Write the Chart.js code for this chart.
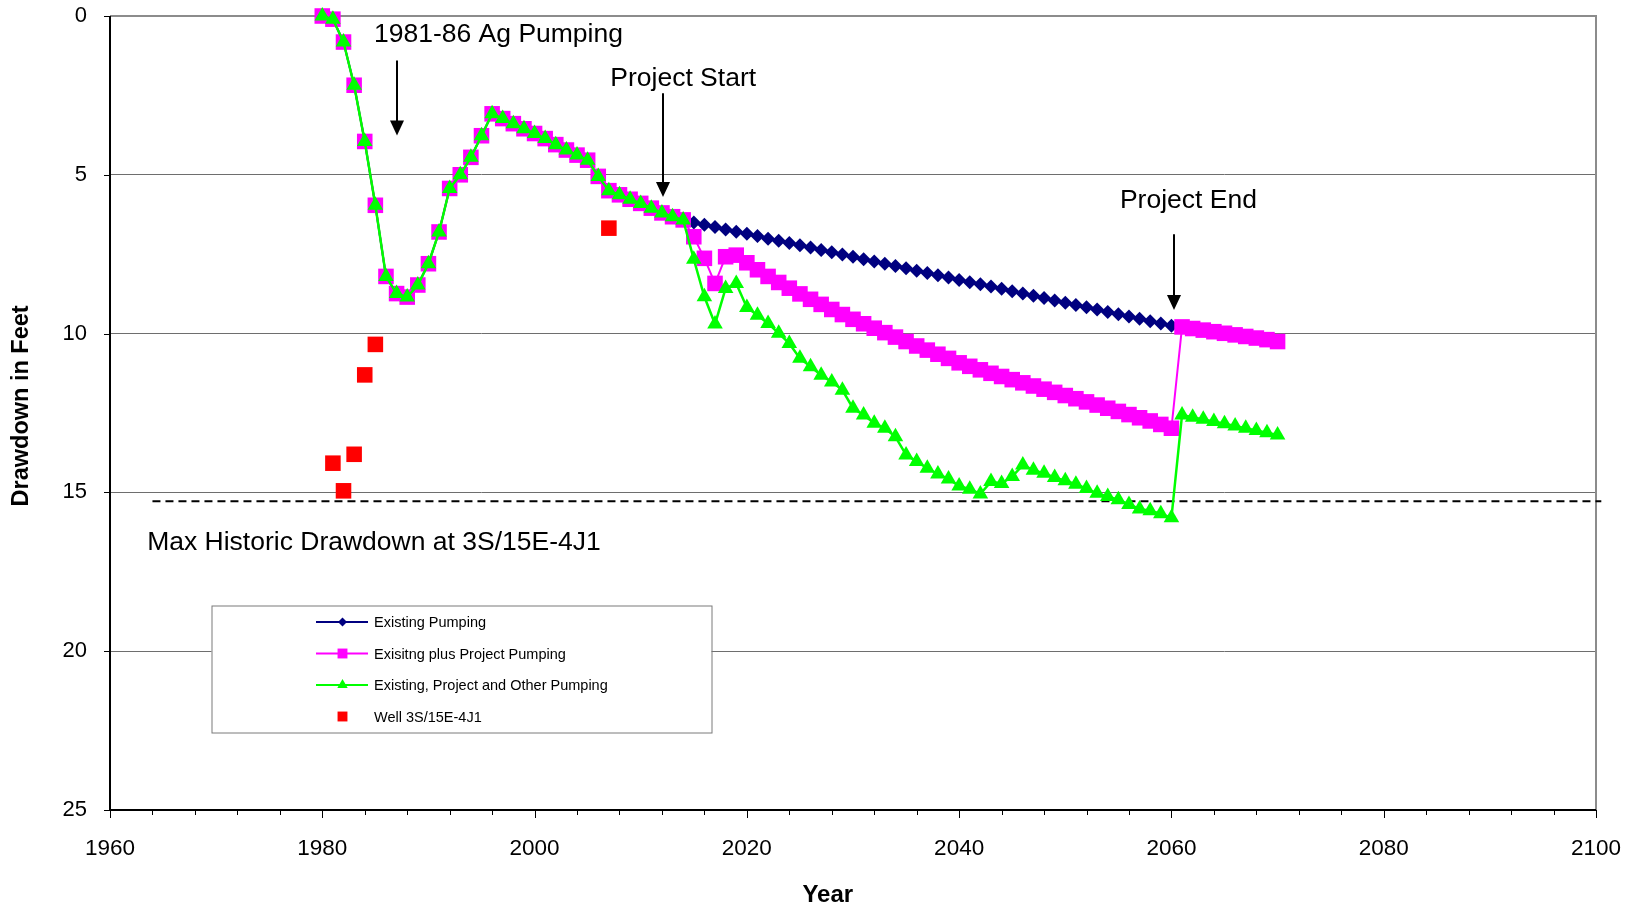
<!DOCTYPE html>
<html>
<head>
<meta charset="utf-8">
<title>Drawdown in Feet</title>
<script src="https://cdn.jsdelivr.net/npm/chart.js"></script>
<style>
  html, body { margin: 0; padding: 0; background: #ffffff; }
  canvas { display: block; }
</style>
</head>
<body>
<canvas id="chart" width="1631" height="911"></canvas>
<script>
// ---- Data -------------------------------------------------------------
const years = [
  1980, 1981, 1982, 1983, 1984, 1985, 1986, 1987, 1988, 1989,
  1990, 1991, 1992, 1993, 1994, 1995, 1996, 1997, 1998, 1999,
  2000, 2001, 2002, 2003, 2004, 2005, 2006, 2007, 2008, 2009,
  2010, 2011, 2012, 2013, 2014, 2015, 2016, 2017, 2018, 2019,
  2020, 2021, 2022, 2023, 2024, 2025, 2026, 2027, 2028, 2029,
  2030, 2031, 2032, 2033, 2034, 2035, 2036, 2037, 2038, 2039,
  2040, 2041, 2042, 2043, 2044, 2045, 2046, 2047, 2048, 2049,
  2050, 2051, 2052, 2053, 2054, 2055, 2056, 2057, 2058, 2059,
  2060, 2061, 2062, 2063, 2064, 2065, 2066, 2067, 2068, 2069,
  2070
];

// Existing Pumping (ends at 2060)
const existingPumping = [
  0.00, 0.10, 0.82, 2.18, 3.95, 5.96, 8.20, 8.74, 8.85, 8.47,
  7.80, 6.80, 5.43, 5.00, 4.45, 3.77, 3.08, 3.23, 3.39, 3.55,
  3.70, 3.86, 4.05, 4.22, 4.38, 4.54, 5.05, 5.50, 5.63, 5.77,
  5.90, 6.05, 6.20, 6.32, 6.42, 6.50, 6.57, 6.64, 6.72, 6.79,
  6.86, 6.93, 7.01, 7.08, 7.15, 7.22, 7.29, 7.37, 7.44, 7.51,
  7.58, 7.66, 7.73, 7.80, 7.87, 7.94, 8.02, 8.09, 8.16, 8.23,
  8.31, 8.38, 8.45, 8.52, 8.59, 8.67, 8.74, 8.81, 8.88, 8.96,
  9.03, 9.10, 9.17, 9.24, 9.32, 9.39, 9.46, 9.53, 9.61, 9.68,
  9.75, null, null, null, null, null, null, null, null, null,
  null
];

// Exisitng plus Project Pumping
const projectPumping = [
  0.00, 0.10, 0.82, 2.18, 3.95, 5.96, 8.20, 8.74, 8.85, 8.47,
  7.80, 6.80, 5.43, 5.00, 4.45, 3.77, 3.08, 3.23, 3.39, 3.55,
  3.70, 3.86, 4.05, 4.22, 4.38, 4.54, 5.05, 5.50, 5.63, 5.77,
  5.90, 6.05, 6.20, 6.32, 6.42, 6.95, 7.63, 8.42, 7.58, 7.53,
  7.77, 7.99, 8.20, 8.39, 8.57, 8.75, 8.92, 9.08, 9.24, 9.40,
  9.55, 9.69, 9.83, 9.97, 10.11, 10.25, 10.39, 10.52, 10.65, 10.78,
  10.92, 11.03, 11.14, 11.25, 11.35, 11.45, 11.55, 11.65, 11.75, 11.85,
  11.95, 12.05, 12.15, 12.25, 12.35, 12.45, 12.55, 12.65, 12.75, 12.86,
  12.98, 9.79, 9.84, 9.89, 9.94, 9.99, 10.04, 10.09, 10.14, 10.19,
  10.25
];

// Existing, Project and Other Pumping
const otherPumping = [
  0.00, 0.10, 0.82, 2.18, 3.95, 5.96, 8.20, 8.74, 8.85, 8.47,
  7.80, 6.80, 5.43, 5.00, 4.45, 3.77, 3.08, 3.23, 3.39, 3.55,
  3.70, 3.86, 4.05, 4.22, 4.38, 4.54, 5.05, 5.50, 5.63, 5.77,
  5.90, 6.05, 6.20, 6.32, 6.42, 7.66, 8.84, 9.70, 8.58, 8.42,
  9.18, 9.42, 9.68, 9.99, 10.31, 10.78, 11.04, 11.31, 11.52, 11.78,
  12.35, 12.56, 12.82, 12.98, 13.25, 13.82, 14.03, 14.24, 14.42, 14.58,
  14.80, 14.90, 15.05, 14.66, 14.72, 14.50, 14.14, 14.30, 14.40, 14.53,
  14.63, 14.74, 14.88, 15.03, 15.13, 15.23, 15.38, 15.52, 15.58, 15.67,
  15.80, 12.56, 12.63, 12.70, 12.77, 12.84, 12.91, 12.98, 13.05, 13.12,
  13.19
];

// Well 3S/15E-4J1 observations
const wellYears = [1981, 1982, 1983, 1984, 1985, 2007];
const wellDrawdown = [14.08, 14.95, 13.80, 11.30, 10.34, 6.68];

// Max historic drawdown reference
const maxHistoricDrawdown = 15.28;
const maxHistoricYears = [1964, 2100.5];

const seriesNames = [
  'Existing Pumping',
  'Exisitng plus Project Pumping',
  'Existing, Project and Other Pumping',
  'Well 3S/15E-4J1'
];

const yTickValues = [0, 5, 10, 15, 20, 25];
const xLabelStep = 20;

// ---- Helpers ----------------------------------------------------------
const FONT = "'Liberation Sans', Arial, Helvetica, sans-serif";

function toPoints(xs, ys) {
  const pts = [];
  for (let i = 0; i < xs.length; i++) {
    if (ys[i] !== null && ys[i] !== undefined) pts.push({ x: xs[i], y: ys[i] });
  }
  return pts;
}

function drawMarker(ctx, style, x, y, r, color) {
  ctx.save();
  ctx.fillStyle = color;
  ctx.beginPath();
  if (style === 'rect') {
    const h = r * Math.SQRT1_2;
    ctx.rect(x - h, y - h, 2 * h, 2 * h);
  } else if (style === 'rectRot') {
    ctx.moveTo(x, y - r);
    ctx.lineTo(x + r, y);
    ctx.lineTo(x, y + r);
    ctx.lineTo(x - r, y);
    ctx.closePath();
  } else if (style === 'triangle') {
    for (let k = 0; k < 3; k++) {
      const a = k * 2 * Math.PI / 3;
      const px = x + Math.sin(a) * r, py = y - Math.cos(a) * r;
      if (k === 0) ctx.moveTo(px, py); else ctx.lineTo(px, py);
    }
    ctx.closePath();
  }
  ctx.fill();
  ctx.restore();
}

// ---- Plugins ----------------------------------------------------------
// Plot frame and outside tick marks
const framePlugin = {
  id: 'framePlugin',
  beforeDatasetsDraw(chart) {
    const { ctx, chartArea: a } = chart;
    ctx.save();
    ctx.lineWidth = 2;
    ctx.strokeStyle = '#8c8c8c';
    ctx.beginPath();
    ctx.moveTo(a.left, a.top);
    ctx.lineTo(a.right, a.top);
    ctx.lineTo(a.right, a.bottom);
    ctx.stroke();
    ctx.strokeStyle = '#000000';
    ctx.beginPath();
    ctx.moveTo(a.left, a.top);
    ctx.lineTo(a.left, a.bottom);
    ctx.lineTo(a.right, a.bottom);
    ctx.stroke();

    // tick marks
    ctx.lineWidth = 1;
    const xs = chart.scales.x, ys = chart.scales.y;
    xs.ticks.forEach(t => {
      const px = Math.round(xs.getPixelForValue(t.value)) + 0.5;
      const len = (t.value % xLabelStep === 0) ? 8 : 5;
      ctx.beginPath();
      ctx.moveTo(px, a.bottom);
      ctx.lineTo(px, a.bottom + len);
      ctx.stroke();
    });
    ys.ticks.forEach(t => {
      const py = Math.round(ys.getPixelForValue(t.value)) + 0.5;
      ctx.beginPath();
      ctx.moveTo(a.left - 6, py);
      ctx.lineTo(a.left, py);
      ctx.stroke();
    });
    ctx.restore();
  }
};

// Legend box inside the plot area
const legendBox = {
  id: 'legendBox',
  afterDatasetsDraw(chart) {
    const { ctx, chartArea: a } = chart;
    const bx = a.left + 101.5, by = a.top + 589.5, bw = 500, bh = 127;
    ctx.save();
    ctx.fillStyle = '#ffffff';
    ctx.fillRect(bx, by, bw, bh);
    ctx.lineWidth = 1;
    ctx.strokeStyle = '#7a7a7a';
    ctx.strokeRect(bx + 0.5, by + 0.5, bw, bh);

    const items = [
      { ds: chart.data.datasets[0], r: 4.5 },
      { ds: chart.data.datasets[1], r: 7 },
      { ds: chart.data.datasets[2], r: 6 },
      { ds: chart.data.datasets[3], r: 7 }
    ];
    const lineX0 = bx + 104.5, lineX1 = bx + 156.5, markX = bx + 131, textX = bx + 162.5;
    ctx.font = '14.5px ' + FONT;
    ctx.textBaseline = 'middle';
    ctx.textAlign = 'left';
    items.forEach((it, i) => {
      const cy = by + 16.5 + i * 31.5;
      if (it.ds.showLine !== false) {
        ctx.strokeStyle = it.ds.borderColor;
        ctx.lineWidth = 2;
        ctx.beginPath();
        ctx.moveTo(lineX0, cy);
        ctx.lineTo(lineX1, cy);
        ctx.stroke();
      }
      drawMarker(ctx, it.ds.pointStyle, markX, cy, it.r, it.ds.pointBackgroundColor);
      ctx.fillStyle = '#000000';
      ctx.fillText(it.ds.label, textX, cy + 1);
    });
    ctx.restore();
  }
};

// Callout texts and arrows, placed in data units
const callouts = [
  { text: '1981-86 Ag Pumping', x: 1996.6, y: 0.58, align: 'center',
    arrow: { x: 1987.05, from: 1.40, to: 3.76 } },
  { text: 'Project Start', x: 2014.0, y: 1.96, align: 'center',
    arrow: { x: 2012.1, from: 2.43, to: 5.70 } },
  { text: 'Project End', x: 2061.6, y: 5.83, align: 'center',
    arrow: { x: 2060.25, from: 6.87, to: 9.26 } },
  { text: 'Max Historic Drawdown at 3S/15E-4J1', x: 1963.5, y: 16.59, align: 'left' }
];

const calloutPlugin = {
  id: 'calloutPlugin',
  afterDraw(chart) {
    const { ctx } = chart;
    const xs = chart.scales.x, ys = chart.scales.y;
    ctx.save();
    ctx.fillStyle = '#000000';
    ctx.strokeStyle = '#000000';
    ctx.font = '26.5px ' + FONT;
    ctx.textBaseline = 'middle';
    callouts.forEach(c => {
      ctx.textAlign = c.align;
      ctx.fillText(c.text, xs.getPixelForValue(c.x), ys.getPixelForValue(c.y));
      if (c.arrow) {
        const ax = Math.round(xs.getPixelForValue(c.arrow.x));
        const y0 = ys.getPixelForValue(c.arrow.from);
        const y1 = ys.getPixelForValue(c.arrow.to);
        const headH = 15, headW = 14;
        ctx.lineWidth = 2;
        ctx.beginPath();
        ctx.moveTo(ax, y0);
        ctx.lineTo(ax, y1 - headH + 1);
        ctx.stroke();
        ctx.beginPath();
        ctx.moveTo(ax - headW / 2, y1 - headH);
        ctx.lineTo(ax + headW / 2, y1 - headH);
        ctx.lineTo(ax, y1);
        ctx.closePath();
        ctx.fill();
      }
    });

    // Axis titles
    const a = chart.chartArea;
    ctx.font = 'bold 24px ' + FONT;
    ctx.textAlign = 'center';
    ctx.fillText('Year', a.left + (a.right - a.left) * 0.483, 895);
    ctx.font = 'bold 23.5px ' + FONT;
    ctx.save();
    ctx.translate(22, a.top + (a.bottom - a.top) * 0.491);
    ctx.rotate(-Math.PI / 2);
    ctx.fillText('Drawdown in Feet', 0, 0);
    ctx.restore();
    ctx.restore();
  }
};

// ---- Chart ------------------------------------------------------------
Chart.defaults.font.family = FONT;
Chart.defaults.color = '#000000';

new Chart(document.getElementById('chart'), {
  type: 'line',
  data: {
    datasets: [
      {
        label: seriesNames[0],
        data: toPoints(years, existingPumping),
        borderColor: '#000080',
        backgroundColor: '#000080',
        pointBackgroundColor: '#000080',
        borderWidth: 2,
        pointStyle: 'rectRot',
        pointRadius: 7,
        pointBorderWidth: 0,
        tension: 0,
        clip: false,
        order: 4
      },
      {
        label: seriesNames[1],
        data: toPoints(years, projectPumping),
        borderColor: '#ff00ff',
        backgroundColor: '#ff00ff',
        pointBackgroundColor: '#ff00ff',
        borderWidth: 2,
        pointStyle: 'rect',
        pointRadius: 11,
        pointBorderWidth: 0,
        tension: 0,
        clip: false,
        order: 3
      },
      {
        label: seriesNames[2],
        data: toPoints(years, otherPumping),
        borderColor: '#00ff00',
        backgroundColor: '#00ff00',
        pointBackgroundColor: '#00ff00',
        borderWidth: 2.5,
        pointStyle: 'triangle',
        pointRadius: 9,
        pointBorderWidth: 0,
        tension: 0,
        clip: false,
        order: 2
      },
      {
        label: seriesNames[3],
        data: toPoints(wellYears, wellDrawdown),
        showLine: false,
        borderColor: '#ff0000',
        backgroundColor: '#ff0000',
        pointBackgroundColor: '#ff0000',
        pointStyle: 'rect',
        pointRadius: 11,
        pointBorderWidth: 0,
        clip: false,
        order: 1
      },
      {
        label: 'Max Historic Drawdown',
        data: toPoints(maxHistoricYears, [maxHistoricDrawdown, maxHistoricDrawdown]),
        borderColor: '#000000',
        borderWidth: 2,
        borderDash: [8, 5],
        pointRadius: 0,
        tension: 0,
        clip: false,
        order: 5
      }
    ]
  },
  options: {
    responsive: false,
    animation: false,
    events: [],
    layout: { padding: { top: 16, right: 35, left: 0, bottom: 0 } },
    plugins: {
      legend: { display: false },
      tooltip: { enabled: false },
      title: { display: false }
    },
    scales: {
      x: {
        type: 'linear',
        min: 1960,
        max: 2100,
        ticks: {
          stepSize: 4,
          maxTicksLimit: 100,
          autoSkip: false,
          maxRotation: 0,
          padding: 25,
          font: { size: 22.5 },
          color: '#000000',
          callback: v => (v % xLabelStep === 0 ? String(v) : '')
        },
        grid: { drawOnChartArea: false, drawTicks: false },
        border: { display: false },
        afterFit: s => {
          s.height = 101;
          s.paddingLeft = 0;
          s.paddingRight = 0;
        }
      },
      y: {
        type: 'linear',
        reverse: true,
        min: yTickValues[0],
        max: yTickValues[yTickValues.length - 1],
        afterBuildTicks: s => { s.ticks = yTickValues.map(v => ({ value: v })); },
        ticks: {
          padding: 23,
          font: { size: 22 },
          color: '#000000'
        },
        grid: {
          drawTicks: false,
          lineWidth: 1,
          color: c => (c.tick && (c.tick.value === 0 || c.tick.value === 25)) ? 'rgba(0,0,0,0)' : '#6e6e6e'
        },
        border: { display: false },
        afterFit: s => {
          s.width = 110;
          s.paddingTop = 0;
          s.paddingBottom = 0;
        }
      }
    }
  },
  plugins: [framePlugin, legendBox, calloutPlugin]
});
</script>
</body>
</html>
